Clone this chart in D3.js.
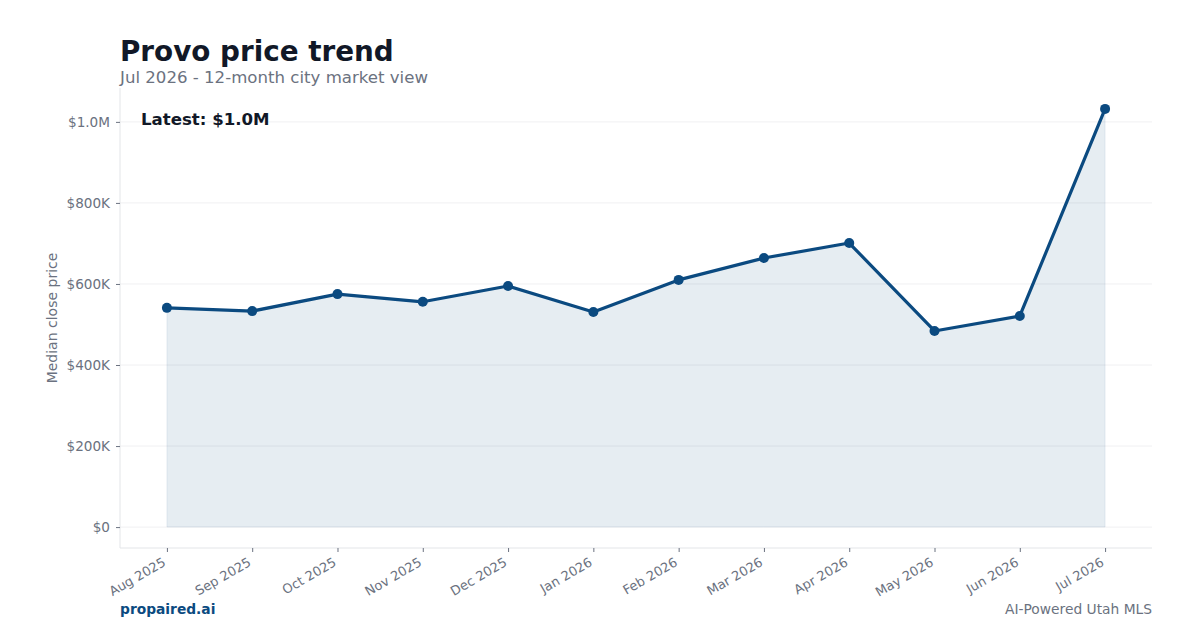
<!DOCTYPE html>
<html>
<head>
<meta charset="utf-8">
<script src="https://cdn.jsdelivr.net/npm/d3@7"></script>
<style>
  body { margin: 0; background: #fff; }
  svg { font-family: "DejaVu Sans", sans-serif; }
</style>
</head>
<body>
<div id="vis"></div>
<script>
// chart data
const months = ["Aug 2025", "Sep 2025", "Oct 2025", "Nov 2025", "Dec 2025", "Jan 2026",
  "Feb 2026", "Mar 2026", "Apr 2026", "May 2026", "Jun 2026", "Jul 2026"]
const prices = [541000, 533000, 575000, 556000, 595000, 531000,
  610000, 664000, 701000, 484000, 521000, 1032000]
const yTicks = [0, 200000, 400000, 600000, 800000, 1000000]
const yTickLabels = ["$0", "$200K", "$400K", "$600K", "$800K", "$1.0M"]

const width = 1200
const height = 630
const plotLeft = 120, plotRight = 1152, plotTop = 88, plotBottom = 548

const svg = d3.select("#vis")
  .append("svg")
  .attr("width", width)
  .attr("height", height)

// x scale with matplotlib-like 5% margins
const x = d3.scaleLinear()
  .domain([-0.55, months.length - 1 + 0.55])
  .range([plotLeft, plotRight])

const yMax = d3.max(prices)
const y = d3.scaleLinear()
  .domain([-0.05 * yMax, 1.05 * yMax])
  .range([plotBottom, plotTop])

// grid lines
svg.append("g")
  .selectAll("line")
  .data(yTicks)
  .enter()
  .append("line")
  .attr("x1", plotLeft).attr("x2", plotRight)
  .attr("y1", d => y(d)).attr("y2", d => y(d))
  .attr("stroke", "#f0f0f2")
  .attr("stroke-width", 1)

// area under the line
const area = d3.area()
  .x((d, i) => x(i))
  .y0(y(0))
  .y1(d => y(d))

svg.append("path")
  .datum(prices)
  .attr("d", area)
  .attr("fill", "#0b4a80")
  .attr("fill-opacity", 0.1)
  .attr("stroke", "#0b4a80")
  .attr("stroke-opacity", 0.08)

// y axis
const yAxis = d3.axisLeft(y)
  .tickValues(yTicks)
  .tickFormat((d, i) => yTickLabels[i])
  .tickSize(4)
  .tickPadding(6)

const gy = svg.append("g")
  .attr("transform", `translate(${plotLeft},0)`)
  .call(yAxis)
gy.select(".domain").attr("stroke", "#e3e5e8").attr("d", `M0,${plotTop}V${plotBottom}`)
gy.selectAll(".tick line").attr("stroke", "#6b7280")
gy.selectAll(".tick text")
  .attr("fill", "#6b7280")
  .style("font-size", "13.6px")
  .style("font-family", "DejaVu Sans")

// x axis
const xAxis = d3.axisBottom(x)
  .tickValues(d3.range(months.length))
  .tickFormat(i => months[i])
  .tickSize(4)
  .tickPadding(4)

const gx = svg.append("g")
  .attr("transform", `translate(0,${plotBottom})`)
  .call(xAxis)
gx.select(".domain").attr("stroke", "#e3e5e8").attr("d", `M${plotLeft},0H${plotRight}`)
gx.selectAll(".tick line").attr("stroke", "#6b7280")
gx.selectAll(".tick text")
  .attr("fill", "#6b7280")
  .style("font-size", "13px")
  .style("font-family", "DejaVu Sans")
  .attr("text-anchor", "end")
  .attr("dy", "0.35em")
  .attr("transform", "translate(-3,13) rotate(-30)")
  .attr("y", 0)
  .attr("x", 0)

// y label
svg.append("text")
  .attr("transform", `translate(57,${(plotTop + plotBottom) / 2}) rotate(-90)`)
  .attr("text-anchor", "middle")
  .attr("fill", "#6b7280")
  .style("font-size", "14px")
  .text("Median close price")

// line
const line = d3.line()
  .x((d, i) => x(i))
  .y(d => y(d))

svg.append("path")
  .datum(prices)
  .attr("d", line)
  .attr("fill", "none")
  .attr("stroke", "#0b4a80")
  .attr("stroke-width", 3.2)
  .attr("stroke-linejoin", "round")

svg.append("g")
  .selectAll("circle")
  .data(prices)
  .enter()
  .append("circle")
  .attr("cx", (d, i) => x(i))
  .attr("cy", d => y(d))
  .attr("r", 5)
  .attr("fill", "#0b4a80")

// titles
svg.append("text")
  .attr("x", 120).attr("y", 61)
  .attr("fill", "#111827")
  .style("font-size", "27.8px")
  .style("font-weight", "bold")
  .text("Provo price trend")

svg.append("text")
  .attr("x", 120).attr("y", 83)
  .attr("fill", "#6b7280")
  .style("font-size", "16.6px")
  .text("Jul 2026 - 12-month city market view")

svg.append("text")
  .attr("x", 141).attr("y", 125)
  .attr("fill", "#111827")
  .style("font-size", "16.6px")
  .style("font-weight", "bold")
  .text("Latest: $" + (prices[prices.length - 1] / 1e6).toFixed(1) + "M")

// footer
svg.append("text")
  .attr("x", 120).attr("y", 614)
  .attr("fill", "#0b4a80")
  .style("font-size", "13.8px")
  .style("font-weight", "bold")
  .text("propaired.ai")

svg.append("text")
  .attr("x", 1152).attr("y", 614)
  .attr("text-anchor", "end")
  .attr("fill", "#6b7280")
  .style("font-size", "13.8px")
  .text("AI-Powered Utah MLS")
</script>
</body>
</html>
